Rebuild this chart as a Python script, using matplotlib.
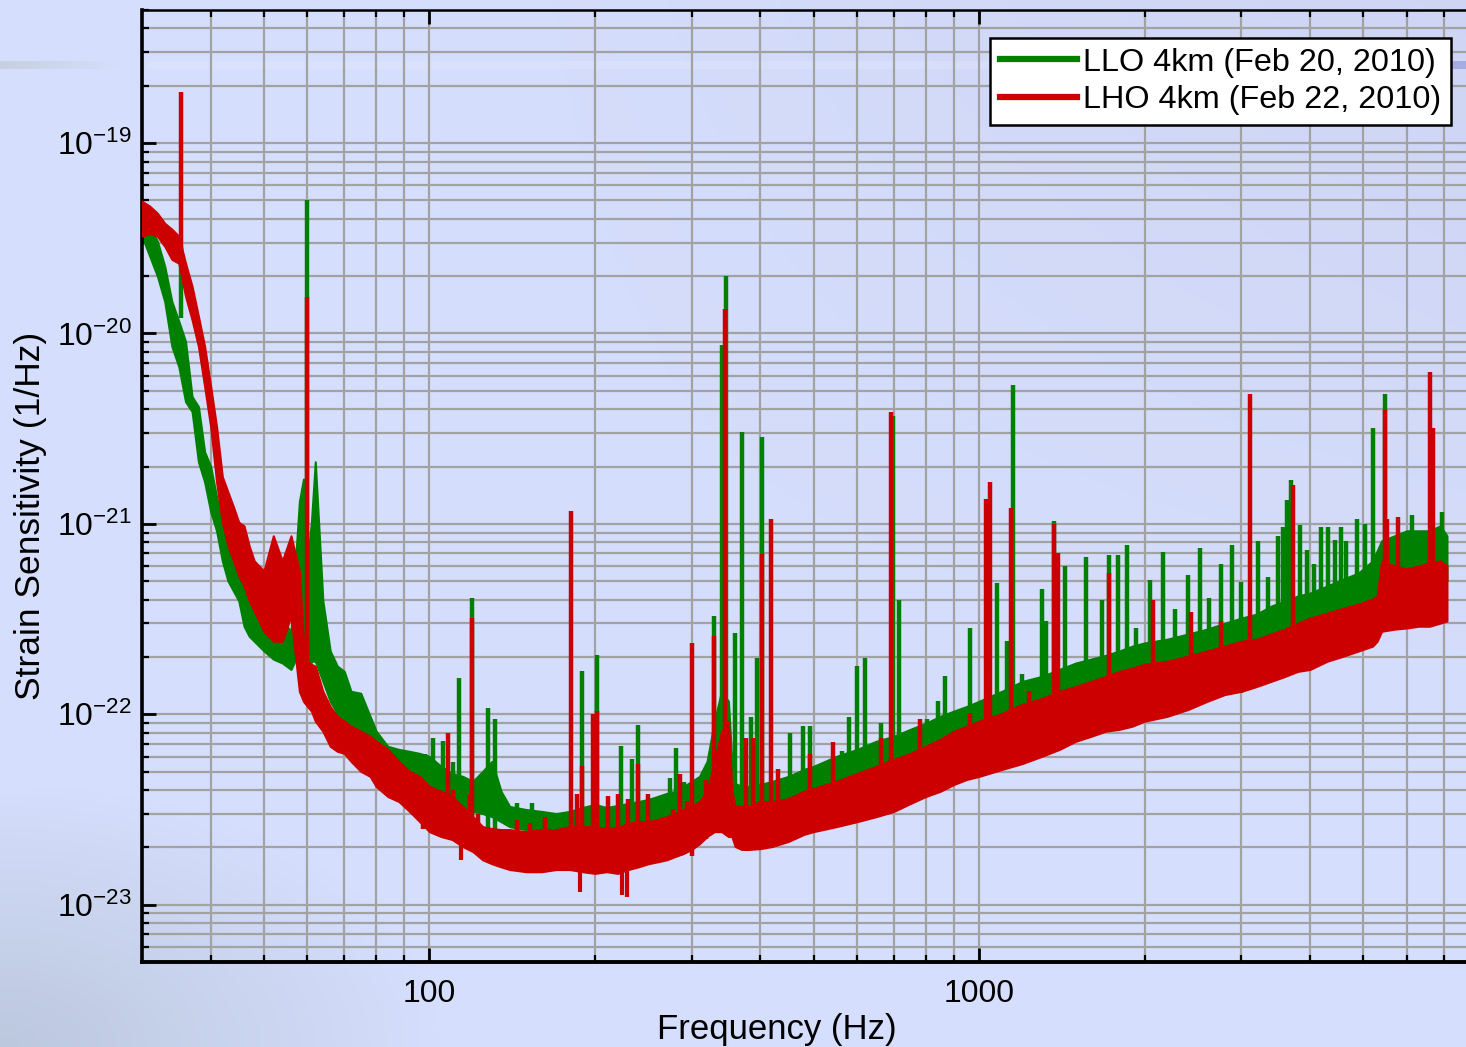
import numpy as np
import matplotlib
matplotlib.use("Agg")
import matplotlib.pyplot as plt
from matplotlib.ticker import LogLocator, NullFormatter
from matplotlib.lines import Line2D

plt.rcParams.update({
    "font.family": ["Liberation Sans", "DejaVu Sans"],
    "mathtext.fontset": "custom",
    "mathtext.rm": "Liberation Sans",
    "mathtext.it": "Liberation Sans:italic",
    "mathtext.bf": "Liberation Sans:bold",
})

# ---------------- data ----------------
f_grid = [30, 31, 32, 33, 34, 35, 36, 37, 38, 39, 40, 41, 42, 43, 44, 45, 46, 47, 48,
          50, 52, 54, 56, 58, 59, 60, 61, 62, 64, 66, 68, 70, 72, 75, 78, 80, 84, 88, 92, 96,
          100, 105, 110, 115, 120, 125, 130, 135, 140,
          150, 160, 170, 180, 190, 200, 210, 220, 230, 240, 250, 260, 270, 280, 290, 300,
          310, 320, 330, 340, 350, 355, 360, 370, 380,
          400, 420, 450, 480, 500,
          550, 600, 650, 700, 750, 800, 850, 900, 950, 1000,
          1100, 1200, 1300, 1400, 1500, 1600, 1700, 1800, 1900, 2000,
          2200, 2400, 2600, 2800, 3000, 3200, 3400, 3600, 3800, 4000,
          4300, 4600, 4900, 5200, 5300, 5400, 5700, 6000, 6300, 6600, 6900, 7100]

# LHO 4km (red): upper / lower edge of the noise band
lho_hi = [4.95e-20, 4.66e-20, 4.28e-20, 3.79e-20, 3.53e-20, 3.24e-20, 2.34e-20, 1.77e-20, 1.23e-20, 8.55e-21,
          5.27e-21, 3.24e-21, 1.77e-21, 1.47e-21, 1.23e-21, 1.02e-21, 9.76e-22, 7.67e-22, 6.39e-22,
          5.66e-22, 8.66e-22, 6.39e-22, 8.66e-22, 5.66e-22, 2.42e-22, 1.90e-22, 1.83e-22, 1.79e-22, 1.32e-22,
          1.10e-22, 9.76e-23, 9.2e-23, 8.66e-23, 8.15e-23, 7.67e-23, 7.22e-23, 6.54e-23, 5.66e-23, 5.02e-23, 4.72e-23,
          4.18e-23, 3.94e-23, 3.70e-23, 3.28e-23, 2.90e-23, 2.57e-23, 2.51e-23, 2.48e-23, 2.48e-23,
          2.42e-23, 2.48e-23, 2.48e-23, 2.57e-23, 2.57e-23, 2.57e-23, 2.51e-23, 2.54e-23, 2.67e-23, 2.73e-23,
          2.73e-23, 2.80e-23, 2.90e-23, 3.01e-23, 3.16e-23, 3.28e-23,
          3.48e-23, 3.94e-23, 5.66e-23, 8.15e-23, 9.2e-23, 3.94e-23, 3.28e-23, 3.28e-23, 3.28e-23,
          3.48e-23, 3.48e-23, 3.61e-23, 3.94e-23, 4.08e-23,
          4.44e-23, 4.89e-23, 5.33e-23, 5.80e-23, 6.23e-23, 6.79e-23, 7.38e-23, 8.15e-23, 8.66e-23, 9.2e-23,
          1.01e-22, 1.13e-22, 1.21e-22, 1.32e-22, 1.40e-22, 1.49e-22, 1.58e-22, 1.68e-22, 1.75e-22, 1.83e-22,
          1.90e-22, 2.02e-22, 2.15e-22, 2.28e-22, 2.42e-22, 2.48e-22, 2.64e-22, 2.80e-22, 3.01e-22, 3.20e-22,
          3.40e-22, 3.61e-22, 3.79e-22, 4.03e-22, 4.18e-22, 6.39e-22, 6.01e-22, 5.80e-22, 6.01e-22, 6.23e-22,
          6.39e-22, 6.01e-22]
lho_lo = [3.24e-20, 3.36e-20, 3.24e-20, 2.87e-20, 2.45e-20, 2.34e-20, 1.57e-20, 1.18e-20, 8.55e-21, 5.27e-21,
          3.24e-21, 1.66e-21, 1.02e-21, 7.67e-22, 6.39e-22, 5.33e-22, 4.72e-22, 3.94e-22, 3.48e-22,
          2.73e-22, 2.42e-22, 2.42e-22, 3.28e-22, 1.32e-22, 1.17e-22, 1.10e-22, 1.04e-22, 9.2e-23, 8.15e-23,
          6.79e-23, 6.39e-23, 6.23e-23, 5.66e-23, 5.02e-23, 4.72e-23, 4.18e-23, 3.70e-23, 3.48e-23, 3.09e-23, 2.73e-23,
          2.42e-23, 2.28e-23, 2.20e-23, 2.02e-23, 1.90e-23, 1.72e-23, 1.64e-23, 1.58e-23, 1.53e-23,
          1.49e-23, 1.49e-23, 1.53e-23, 1.53e-23, 1.49e-23, 1.46e-23, 1.49e-23, 1.46e-23, 1.53e-23, 1.58e-23,
          1.64e-23, 1.68e-23, 1.72e-23, 1.79e-23, 1.86e-23, 1.95e-23,
          2.09e-23, 2.28e-23, 2.42e-23, 2.42e-23, 2.28e-23, 2.28e-23, 2.02e-23, 1.95e-23, 1.95e-23,
          1.97e-23, 2.02e-23, 2.15e-23, 2.34e-23, 2.42e-23,
          2.57e-23, 2.73e-23, 2.90e-23, 3.09e-23, 3.40e-23, 3.70e-23, 3.94e-23, 4.28e-23, 4.55e-23, 4.72e-23,
          5.13e-23, 5.52e-23, 6.01e-23, 6.54e-23, 7.22e-23, 7.67e-23, 8.15e-23, 8.34e-23, 8.66e-23, 9.2e-23,
          9.76e-23, 1.06e-22, 1.17e-22, 1.27e-22, 1.32e-22, 1.40e-22, 1.49e-22, 1.58e-22, 1.68e-22, 1.72e-22,
          1.90e-22, 2.02e-22, 2.15e-22, 2.28e-22, 2.42e-22, 2.73e-22, 2.80e-22, 2.84e-22, 2.90e-22, 2.90e-22,
          3.01e-22, 3.09e-22]

# LLO 4km (green): upper / lower edge of the noise band
llo_hi = [4.95e-20, 3.66e-20, 3.05e-20, 2.25e-20, 1.47e-20, 1.16e-20, 9.08e-21, 4.66e-21, 4.13e-21, 2.39e-21,
          2.0e-21, 1.39e-21, 1.02e-21, 8.66e-22, 7.67e-22, 6.01e-22, 4.72e-22, 4.18e-22, 3.70e-22,
          3.48e-22, 3.16e-22, 3.09e-22, 2.73e-22, 1.31e-21, 1.72e-21, 6.39e-22, 1.02e-21, 2.12e-21, 3.94e-22,
          2.15e-22, 1.79e-22, 1.68e-22, 1.32e-22, 1.29e-22, 9.76e-23, 8.15e-23, 6.79e-23, 6.54e-23, 6.39e-23, 6.23e-23,
          6.01e-23, 5.33e-23, 4.89e-23, 4.72e-23, 4.44e-23, 5.02e-23, 5.66e-23, 3.94e-23, 3.28e-23,
          3.16e-23, 3.09e-23, 3.01e-23, 3.09e-23, 3.24e-23, 3.36e-23, 3.24e-23, 3.32e-23, 3.40e-23, 3.48e-23,
          3.57e-23, 3.70e-23, 3.84e-23, 3.94e-23, 4.18e-23, 4.44e-23,
          4.72e-23, 5.66e-23, 9.2e-23, 1.32e-22, 1.17e-22, 5.66e-23, 4.33e-23, 4.18e-23, 4.18e-23,
          4.28e-23, 4.44e-23, 4.72e-23, 5.13e-23, 5.33e-23,
          6.01e-23, 6.54e-23, 7.22e-23, 7.67e-23, 8.34e-23, 8.97e-23, 9.76e-23, 1.04e-22, 1.10e-22, 1.17e-22,
          1.32e-22, 1.49e-22, 1.58e-22, 1.72e-22, 1.86e-22, 1.95e-22, 2.04e-22, 2.15e-22, 2.28e-22, 2.37e-22,
          2.48e-22, 2.64e-22, 2.80e-22, 3.01e-22, 3.20e-22, 3.36e-22, 3.70e-22, 3.94e-22, 4.18e-22, 4.33e-22,
          4.72e-22, 5.13e-22, 5.52e-22, 6.39e-22, 7.22e-22, 8.15e-22, 8.66e-22, 9.2e-22, 9.2e-22, 9.2e-22,
          9.76e-22, 8.66e-22]
llo_lo = [3.24e-20, 2.54e-20, 2.0e-20, 1.47e-20, 8.55e-21, 6.70e-21, 4.39e-21, 3.89e-21, 2.12e-21, 1.66e-21,
          1.16e-21, 9.2e-22, 6.39e-22, 5.02e-22, 4.44e-22, 3.94e-22, 2.90e-22, 2.57e-22, 2.42e-22,
          2.15e-22, 1.95e-22, 1.86e-22, 1.72e-22, 2.15e-22, 2.42e-22, 1.49e-22, 1.90e-22, 1.90e-22, 1.49e-22,
          1.17e-22, 1.01e-22, 9.2e-23, 8.66e-23, 7.67e-23, 6.79e-23, 6.23e-23, 5.33e-23, 5.02e-23, 4.72e-23, 4.44e-23,
          4.18e-23, 3.70e-23, 3.48e-23, 3.28e-23, 3.09e-23, 3.01e-23, 2.90e-23, 2.73e-23, 2.57e-23,
          2.48e-23, 2.42e-23, 2.37e-23, 2.42e-23, 2.48e-23, 2.57e-23, 2.48e-23, 2.54e-23, 2.60e-23, 2.67e-23,
          2.73e-23, 2.80e-23, 2.90e-23, 3.01e-23, 3.09e-23, 3.28e-23,
          3.48e-23, 3.70e-23, 3.94e-23, 4.44e-23, 4.44e-23, 3.48e-23, 3.09e-23, 3.01e-23, 3.01e-23,
          3.09e-23, 3.16e-23, 3.28e-23, 3.48e-23, 3.70e-23,
          4.18e-23, 4.44e-23, 4.72e-23, 5.13e-23, 5.66e-23, 6.01e-23, 6.54e-23, 7.04e-23, 7.38e-23, 7.67e-23,
          8.66e-23, 9.42e-23, 1.04e-22, 1.10e-22, 1.17e-22, 1.24e-22, 1.32e-22, 1.40e-22, 1.49e-22, 1.58e-22,
          1.68e-22, 1.79e-22, 1.90e-22, 2.02e-22, 2.15e-22, 2.28e-22, 2.42e-22, 2.57e-22, 2.73e-22, 2.90e-22,
          3.09e-22, 3.28e-22, 3.48e-22, 3.94e-22, 4.18e-22, 4.44e-22, 4.72e-22, 4.72e-22, 4.72e-22, 4.72e-22,
          5.02e-22, 5.02e-22]

# spectral lines (frequency, base, peak)
llo_spike_f = [35.3, 60.0, 106, 113.4, 119.5, 128, 131.8, 189.8, 202.1, 223.4, 233.9, 239.9,
               281.2, 329.8, 341, 346.7, 360.1, 370.8, 385.1, 394.9, 403.2, 453.3, 478.6, 492.8,
               563.6, 580.3, 600, 620.4, 663.5, 697.6, 715.3, 842.5, 867.5, 963,
               1078, 1124, 1153, 1197, 1233, 1302, 1324, 1369, 1433,
               1565, 1673, 1723, 1789, 1858, 1930,
               2046, 2160, 2272, 2399, 2522, 2619, 2754, 2884, 2995,
               3216, 3353, 3496, 3570, 3631, 3692, 3833, 3947,
               4065, 4187, 4310, 4441, 4553, 4649, 4867,
               5033, 5204, 5472, 6130, 6947,
               98, 101.7, 110.6, 144.6, 154, 206, 274, 290, 315,
               513, 530, 643, 740, 805, 910, 1250]
llo_spike_base = [1.2e-20, 1.5e-22, 3.0e-23, 2.5e-23, 2.5e-23, 2.5e-23, 2.5e-23, 2.0e-23, 2.0e-23, 2.0e-23, 2.0e-23, 2.0e-23,
                  2.0e-23, 3.0e-23, 3.0e-23, 3.0e-23, 2.5e-23, 2.5e-23, 2.5e-23, 2.5e-23, 2.5e-23, 2.5e-23, 2.5e-23, 2.5e-23,
                  3.5e-23, 3.5e-23, 3.5e-23, 3.5e-23, 3.5e-23, 3.5e-23, 3.5e-23, 5e-23, 5e-23, 5e-23,
                  7e-23, 7e-23, 7e-23, 7e-23, 7e-23, 7e-23, 7e-23, 7e-23, 7e-23,
                  9e-23, 9e-23, 9e-23, 9e-23, 9e-23, 9e-23,
                  1.3e-22, 1.3e-22, 1.3e-22, 1.3e-22, 1.3e-22, 1.3e-22, 1.3e-22, 1.3e-22, 1.3e-22,
                  1.7e-22, 1.7e-22, 1.7e-22, 1.7e-22, 1.7e-22, 1.7e-22, 1.7e-22, 1.7e-22,
                  2.2e-22, 2.2e-22, 2.2e-22, 2.2e-22, 2.2e-22, 2.2e-22, 2.2e-22,
                  3.2e-22, 3.2e-22, 3.2e-22, 3.2e-22, 3.2e-22,
                  3.0e-23, 3.0e-23, 2.5e-23, 2.0e-23, 2.0e-23, 2.0e-23, 2.0e-23, 2.0e-23, 2.2e-23,
                  3.0e-23, 3.0e-23, 3.5e-23, 4.0e-23, 4.5e-23, 5e-23, 7e-23]
llo_spike_top = [2.87e-20, 5.02e-20, 7.22e-23, 1.55e-22, 4.08e-22, 1.08e-22, 9.42e-23, 1.68e-22, 2.04e-22, 6.79e-23, 5.80e-23, 8.76e-23,
                 6.62e-23, 3.28e-22, 8.66e-21, 2.0e-20, 2.67e-22, 3.05e-21, 9.65e-23, 1.97e-22, 2.87e-21, 7.95e-23, 8.66e-23, 8.66e-23,
                 6.39e-23, 9.65e-23, 1.79e-22, 1.97e-22, 8.97e-23, 3.70e-21, 3.98e-22, 1.17e-22, 1.58e-22, 2.84e-22,
                 4.89e-22, 2.42e-22, 5.39e-21, 1.62e-22, 1.46e-22, 4.55e-22, 3.09e-22, 1.04e-21, 6.01e-22,
                 6.70e-22, 3.98e-22, 6.87e-22, 6.87e-22, 7.76e-22, 2.84e-22,
                 5.08e-22, 7.13e-22, 3.57e-22, 5.39e-22, 7.48e-22, 4.08e-22, 6.16e-22, 7.76e-22, 4.95e-22,
                 8.15e-22, 5.27e-22, 8.66e-22, 9.65e-22, 1.34e-21, 1.70e-21, 9.88e-22, 7.30e-22,
                 6.16e-22, 9.65e-22, 9.65e-22, 8.25e-22, 9.65e-22, 8.15e-22, 1.06e-21,
                 1.0e-21, 3.20e-21, 4.83e-21, 1.12e-21, 1.16e-21,
                 6.2e-23, 7.5e-23, 5.6e-23, 3.4e-23, 3.4e-23, 3.1e-23, 4.6e-23, 4.4e-23, 4.6e-23,
                 5.5e-23, 5.66e-23, 6.8e-23, 7.7e-23, 9.4e-23, 9.2e-23, 1.46e-22]

lho_spike_f = [35.3, 60.0, 108.3, 119.5, 181.2, 189.8, 198.7, 202.1, 211.6, 239.9,
               286.0, 300.8, 329.8, 345.3, 403.2, 418.6, 431.0, 492.8, 542.8, 663.5,
               691.8, 781.1, 963.0, 1030, 1047, 1143, 1233, 1369, 1392, 1723,
               2072, 2429, 2754, 3110, 3723, 5472, 5518, 5780, 6607, 6691,
               97.5, 102.5, 110.6, 118.7, 122.8, 144.6, 152.6, 162.6, 185.8, 220,
               230, 250, 278, 294, 318, 376, 388, 825, 897, 1180]
lho_spike_base = [2.5e-20, 1.3e-22, 2.5e-23, 2.0e-23, 1.8e-23, 1.8e-23, 1.8e-23, 1.8e-23, 1.8e-23, 1.8e-23,
                  1.8e-23, 1.8e-23, 3.0e-23, 3.0e-23, 2.5e-23, 2.5e-23, 2.5e-23, 2.5e-23, 3.5e-23, 3.5e-23,
                  3.5e-23, 5e-23, 5e-23, 7e-23, 7e-23, 7e-23, 7e-23, 7e-23, 7e-23, 9e-23,
                  1.3e-22, 1.3e-22, 1.3e-22, 1.7e-22, 1.7e-22, 3.2e-22, 3.2e-22, 3.2e-22, 3.2e-22, 3.2e-22,
                  2.5e-23, 2.4e-23, 2.2e-23, 2.0e-23, 1.9e-23, 1.6e-23, 1.6e-23, 1.6e-23, 1.6e-23, 1.6e-23,
                  1.6e-23, 1.7e-23, 1.8e-23, 1.9e-23, 2.2e-23, 2.0e-23, 2.0e-23, 3.8e-23, 4.3e-23, 5.5e-23]
lho_spike_top = [1.85e-19, 1.55e-20, 7.95e-23, 3.20e-22, 1.17e-21, 5.33e-23, 1.0e-22, 1.04e-22, 3.70e-23, 5.45e-23,
                 4.83e-23, 2.37e-22, 2.57e-22, 1.35e-20, 6.95e-22, 1.06e-21, 5.13e-23, 6.16e-23, 7.13e-23, 7.48e-23,
                 3.89e-21, 9.42e-23, 1.01e-22, 1.35e-21, 1.66e-21, 1.21e-21, 1.32e-22, 1.0e-21, 7.04e-22, 5.52e-22,
                 3.98e-22, 3.44e-22, 3.09e-22, 4.83e-21, 1.60e-21, 3.98e-21, 1.06e-21, 1.09e-21, 6.31e-21, 3.20e-21,
                 4.1e-23, 3.94e-23, 4.0e-23, 3.8e-23, 3.0e-23, 2.8e-23, 2.7e-23, 2.9e-23, 3.8e-23, 3.8e-23,
                 3.6e-23, 3.8e-23, 3.2e-23, 3.5e-23, 4.5e-23, 7.5e-23, 7.5e-23, 6.4e-23, 6.9e-23, 9.0e-23]

# downward dips of the red trace
lho_dip_f = [114.3, 188.2, 224.3, 229.1]
lho_dip_low = [1.72e-23, 1.17e-23, 1.13e-23, 1.10e-23]
lho_dip_high = [2.2e-23, 1.8e-23, 1.7e-23, 1.7e-23]

legend_labels = ["LLO 4km (Feb 20, 2010)", "LHO 4km (Feb 22, 2010)"]
xtick_vals = [100, 1000]
xtick_labels = ["100", "1000"]
ytick_vals = [1e-23, 1e-22, 1e-21, 1e-20, 1e-19]
ytick_labels = [r"$10^{-23}$", r"$10^{-22}$", r"$10^{-21}$", r"$10^{-20}$", r"$10^{-19}$"]

GREEN = "#008000"
RED = "#cc0000"

# ---------------- figure & background ----------------
W, H = 1466, 1047
fig = plt.figure(figsize=(W / 100, H / 100), dpi=100)

ax_bg = fig.add_axes([0, 0, 1, 1])
ax_bg.axis("off")
yy, xx = np.mgrid[0:1:H * 1j, 0:1:W * 1j]
base = np.array([213, 222, 252]) / 255
lav = np.array([204, 209, 240]) / 255
gray = np.array([188, 200, 222]) / 255
w1 = np.clip((xx - 0.3) / 0.7, 0, 1) * np.clip(1 - yy / 0.7, 0, 1) * 0.7
w2 = np.clip(1 - np.hypot(xx / 0.3, (1 - yy) / 0.25), 0, 1)
img = base * (1 - w1 - w2)[..., None] + lav * w1[..., None] + gray * w2[..., None]
# decorative slide stripe
r0, r1 = 61, 69
left_col = np.array([198, 208, 222]) / 255
a = np.clip(1 - xx[r0:r1] / 0.08, 0, 1)[..., None]
img[r0:r1] = img[r0:r1] * (1 - a) + left_col * a
mid = (xx[r0:r1] > 0.1) & (xx[r0:r1] < 0.985)
img[r0:r1][mid] = img[r0:r1][mid] * 0.5 + np.array([222, 228, 252]) / 255 * 0.5
right = xx[r0:r1] >= 0.985
img[r0:r1][right] = np.array([165, 172, 225]) / 255
ax_bg.imshow(img, aspect="auto", extent=[0, 1, 0, 1], interpolation="bilinear")
ax_bg.set_xlim(0, 1)
ax_bg.set_ylim(0, 1)

# ---------------- main axes ----------------
ax = fig.add_axes([142 / W, 1 - 962 / H, 1 - 142 / W, (962 - 10) / H])
ax.set_facecolor("none")
ax.set_xscale("log")
ax.set_yscale("log")

ax.fill_between(f_grid, llo_lo, llo_hi, facecolor=GREEN, edgecolor=GREEN, lw=1.5, zorder=2)
ax.vlines(llo_spike_f, llo_spike_base, llo_spike_top, color=GREEN, lw=3.2, zorder=2.1)
ax.fill_between(f_grid, lho_lo, lho_hi, facecolor=RED, edgecolor=RED, lw=1.5, zorder=3)
ax.vlines(lho_spike_f, lho_spike_base, lho_spike_top, color=RED, lw=3.2, zorder=3.1)
ax.vlines(lho_dip_f, lho_dip_low, lho_dip_high, color=RED, lw=3.0, zorder=3.1)

ax.set_axisbelow(True)
ax.grid(True, which="both", color="#a2a2a2", lw=1.6)

ax.set_xticks(xtick_vals, xtick_labels)
ax.set_yticks(ytick_vals, ytick_labels)
ax.xaxis.set_minor_locator(LogLocator(base=10, subs=np.arange(2, 10), numticks=100))
ax.yaxis.set_minor_locator(LogLocator(base=10, subs=np.arange(2, 10), numticks=100))
ax.xaxis.set_minor_formatter(NullFormatter())
ax.yaxis.set_minor_formatter(NullFormatter())
ax.set_xlim(30, 7690)
ax.set_ylim(5e-24, 5e-19)

ax.tick_params(axis="both", which="major", direction="in", length=10, width=2.0,
               labelsize=23, colors="black")
ax.tick_params(axis="both", which="minor", direction="in", length=5, width=1.6)
ax.tick_params(axis="x", which="both", top=True, bottom=True, pad=12)
ax.tick_params(axis="y", which="both", left=True, right=False, pad=7)

ax.spines["right"].set_visible(False)
ax.spines["left"].set_linewidth(2.6)
ax.spines["bottom"].set_linewidth(2.8)
ax.spines["top"].set_linewidth(1.8)

ax.set_xlabel("Frequency (Hz)", fontsize=25)
ax.xaxis.set_label_coords((777 - 142) / 1324, (962 - 1013) / 952)
ax.xaxis.label.set_va("top")
ax.set_ylabel("Strain Sensitivity (1/Hz)", fontsize=25.5)
ax.yaxis.set_label_coords((47 - 142) / 1324, (962 - 516) / 952)

handles = [Line2D([], [], color=GREEN, lw=4.5), Line2D([], [], color=RED, lw=4.5)]
leg = ax.legend(handles, legend_labels, loc="upper right",
                bbox_to_anchor=(1451 / W, 1 - 38 / H), bbox_transform=fig.transFigure,
                fontsize=23.3, frameon=True, fancybox=False, edgecolor="black", framealpha=1,
                handlelength=2.4, handletextpad=0.18, borderpad=0.3, labelspacing=0.22,
                borderaxespad=0)
leg.get_frame().set_linewidth(1.8)
leg.set_zorder(10)

fig.savefig("out.png", dpi=100)
